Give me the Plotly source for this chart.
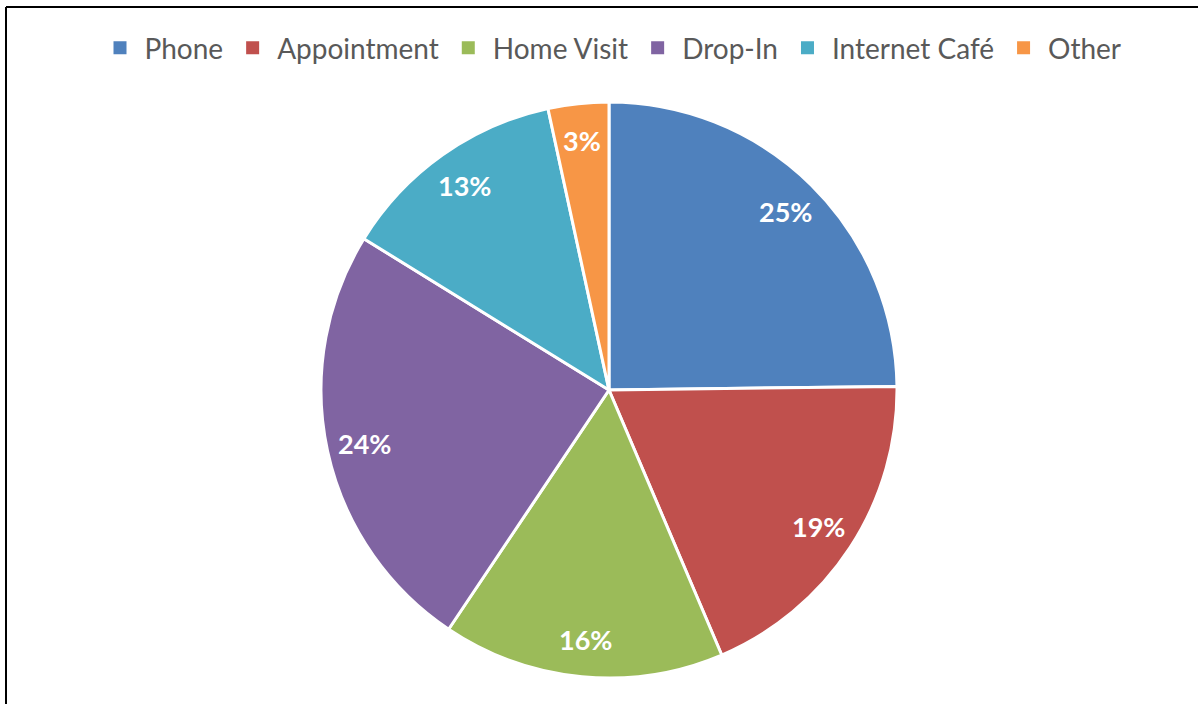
import math
import plotly.graph_objects as go

categories = ["Phone", "Appointment", "Home Visit", "Drop-In", "Internet Café", "Other"]
values = [24.8, 18.8, 15.8, 24.4, 12.8, 3.4]
colors = ["#4F81BD", "#C0504D", "#9BBB59", "#8064A2", "#4BACC6", "#F79646"]

W, H = 1198, 704
ML, MR, MT, MB = 20, 0, 102, 26
PW, PH = W - ML - MR, H - MT - MB
R = min(PW, PH) / 2.0
LABEL_FRAC = 0.87

fig = go.Figure(go.Pie(
    labels=categories,
    values=values,
    marker=dict(colors=colors, line=dict(color="white", width=3)),
    sort=False,
    direction="clockwise",
    rotation=0,
    textinfo="none",
    hoverinfo="label+percent",
    showlegend=False,
    domain=dict(x=[0, 1], y=[0, 1]),
))

# legend entries with solid square keys
for name, col in zip(categories, colors):
    fig.add_trace(go.Scatter(
        x=[None], y=[None], mode="markers", name=name,
        marker=dict(symbol="square", size=13, color=col),
        hoverinfo="skip", showlegend=True,
    ))

total = sum(values)
cum = 0.0
annotations = []
for v in values:
    mid = (cum + v / 2.0) / total * 2 * math.pi
    cum += v
    x = 0.5 + LABEL_FRAC * R * math.sin(mid) / PW
    y = 0.5 + LABEL_FRAC * R * math.cos(mid) / PH
    annotations.append(dict(
        x=x, y=y, xref="paper", yref="paper", showarrow=False,
        text="<b>%d%%</b>" % round(v / total * 100),
        font=dict(family="Lato", size=27, color="white"),
        xanchor="center", yanchor="middle",
    ))

fig.update_layout(
    width=W, height=H,
    margin=dict(l=ML, r=MR, t=MT, b=MB),
    paper_bgcolor="white",
    plot_bgcolor="white",
    xaxis=dict(visible=False),
    yaxis=dict(visible=False),
    showlegend=True,
    legend=dict(
        orientation="h",
        x=(611 - ML) / PW, xanchor="center",
        y=1 + (MT - 48) / PH, yanchor="middle",
        font=dict(family="Lato", size=28, color="#595959"),
        itemwidth=39,
        itemclick=False, itemdoubleclick=False,
    ),
    annotations=annotations,
    shapes=[
        dict(type="line", xref="paper", yref="paper",
             x0=(6 - ML) / PW, x1=(W - ML) / PW,
             y0=1 + (MT - 7) / PH, y1=1 + (MT - 7) / PH,
             line=dict(color="black", width=2)),
        dict(type="line", xref="paper", yref="paper",
             x0=(6 - ML) / PW, x1=(6 - ML) / PW,
             y0=1 + (MT - 7) / PH, y1=-(MB + 2) / PH,
             line=dict(color="black", width=2)),
    ],
)

fig.write_html("out.html", config={"displayModeBar": False},
               post_script="document.body.style.margin='0';")
